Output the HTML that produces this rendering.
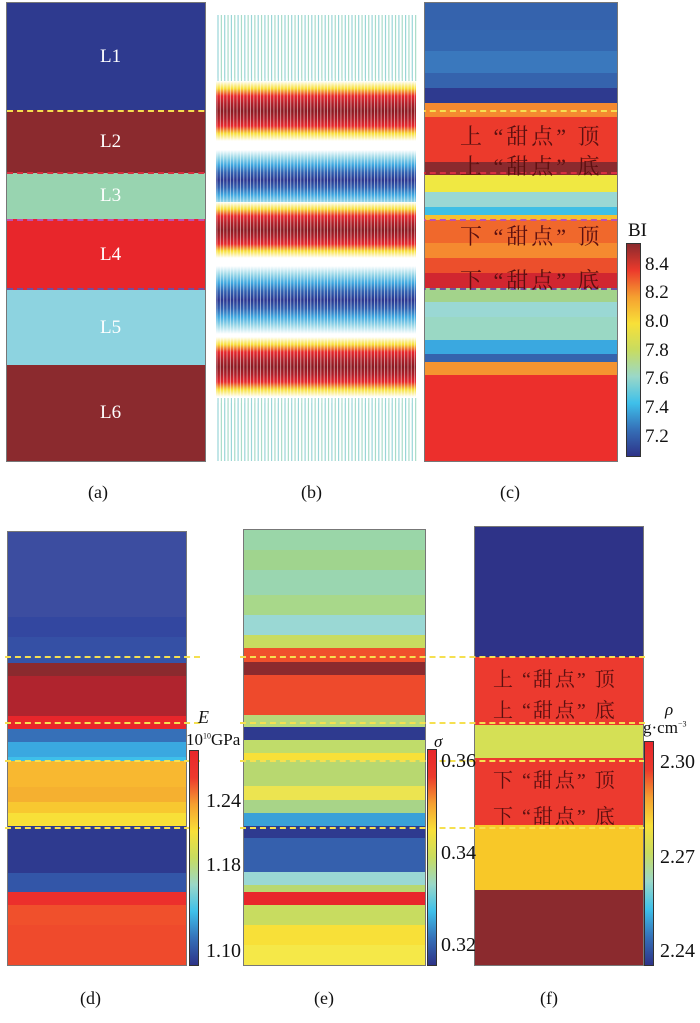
<!DOCTYPE html>
<html><head><meta charset="utf-8"><style>
body{margin:0;background:#fff;width:700px;height:1023px;overflow:hidden;position:relative;font-family:"Liberation Serif","Noto Serif CJK SC",serif;}
.p{position:absolute;overflow:hidden}
.b{position:absolute;left:0;width:100%}
.t{position:absolute;color:#111;white-space:nowrap}
.d{position:absolute;height:0;border-top:2px dashed}
.cb{position:absolute}
</style></head><body>
<div id="root"></div>
<svg id="seis" style="position:absolute;left:206px;top:3px" width="218" height="458"></svg>
<script>
const root=document.getElementById('root');
function panel(name,x,y0,y1,w,bands,border){
  const p=document.createElement('div');p.className='p';
  
  
  p.style.cssText=`left:${x}px;top:${y0}px;width:${w}px;height:${y1-y0}px;${border?'outline:1px solid #777':''}`;
  bands.forEach(b=>{const e=document.createElement('div');e.className='b';
    
    
    e.style.top=(b[0]-y0)+'px';e.style.height=(b[1]-b[0]+1)+'px';e.style.background=b[2];p.appendChild(e);});
  root.appendChild(p);
}
function text(name,s,x,y,size,extra){const e=document.createElement('div');e.className='t';
  
  
  e.style.cssText+=`left:${x}px;top:${y}px;font-size:${size}px;${extra||''}`;e.innerHTML=s;root.appendChild(e);}
function dash(x,y,w,c){const e=document.createElement('div');e.className='d';
  
  
  e.style.cssText+=`left:${x}px;top:${y-1}px;width:${w}px;border-color:${c}`;root.appendChild(e);}
const jet='linear-gradient(to top,#2e3388,#3570b8,#3ec0ea,#9ad8c8,#c8dc60,#f8e038,#f5a030,#ec3a2c,#e8262b)';
const jetBI='linear-gradient(to top,#2e3388,#3570b8,#3ec0ea,#9ad8c8,#c8dc60,#f8e038,#f5a030,#ec3a2c,#8b2a2e)';
function cbar(name,x,y0,y1,grad,ticks,tx,vmin,vmax,size,dec){
  const e=document.createElement('div');e.className='cb';
  
  
  e.style.cssText=`left:${x}px;top:${y0}px;width:${name==='bi-colorbar'?13:8}px;height:${y1-y0}px;background:${grad};outline:1px solid #333`;
  root.appendChild(e);
  ticks.forEach(v=>{const y=y1-(v-vmin)/(vmax-vmin)*(y1-y0);
    text('colorbar-tick-label',v.toFixed(dec),tx,y-size*0.6,size);});
}
// Panel a
const layersA=[[3,110,'#2e3a8f','L1'],[110,173,'#8b2a2e','L2'],[173,219,'#98d4b0','L3'],[219,290,'#e8262b','L4'],[290,365,'#8dd3e0','L5'],[365,461,'#8b2a2e','L6']];
panel('panel-a-layers',7,3,461,198,layersA,true);
layersA.forEach(l=>text('layer-label',l[3],100,(l[0]+l[1])/2-11,19,'color:#fff'));
// Panel c
const bandsC=[[3,30,'#3563ad'],[30,51,'#3467b0'],[51,73,'#3a78bd'],[73,88,'#3563ad'],[88,103,'#2e3a8f'],[103,117,'#f58a30'],[117,162,'#ec3a2c'],[162,175,'#8b2a2e'],[175,192,'#f0e842'],[192,207,'#9ad8d4'],[207,215,'#3ebfe5'],[215,220,'#f5c030'],[220,243,'#f0682c'],[243,258,'#f58a30'],[258,273,'#ec4f2c'],[273,288,'#d12630'],[288,302,'#a3d38b'],[302,317,'#9ad8d4'],[317,340,'#9ad8c4'],[340,354,'#3aa8e0'],[354,362,'#3563ad'],[362,375,'#f59430'],[375,461,'#ec2f2c']];
panel('panel-c-bi',425,3,461,192,bandsC,true);
// Panel d
const bandsD=[[532,617,'#3c4da0'],[617,637,'#3347a0'],[637,657,'#3550a5'],[657,663,'#3554a8'],[663,676,'#8b2a2e'],[676,716,'#b0242e'],[716,729,'#e8262b'],[729,742,'#3670b8'],[742,757,'#3aa8e0'],[757,761,'#3ec0ea'],[761,787,'#f8b830'],[787,802,'#f5b030'],[802,813,'#f8c830'],[813,826,'#f8e038'],[826,873,'#2e3a8f'],[873,892,'#3356a8'],[892,905,'#ec2f2c'],[905,925,'#f0502c'],[925,965,'#ef4a2c']];
panel('panel-d-modulus',8,532,965,178,bandsD,true);
const bandsE=[[530,550,'#9ad6a8'],[550,570,'#a0d48e'],[570,595,'#9ad6b0'],[595,615,'#a8d88a'],[615,635,'#9ad8d4'],[635,648,'#c8dc60'],[648,662,'#f0502c'],[662,675,'#8b2a2e'],[675,715,'#ee4a2c'],[715,727,'#b8d878'],[727,740,'#2e3a8f'],[740,753,'#c0dc6a'],[753,760,'#f8e038'],[760,786,'#b8d870'],[786,800,'#ece450'],[800,813,'#a8d488'],[813,826,'#3aa0d8'],[826,838,'#2e3a8f'],[838,872,'#3560ad'],[872,885,'#9ad8d4'],[885,892,'#b8d870'],[892,905,'#e8262b'],[905,925,'#c8dc60'],[925,945,'#f8e038'],[945,965,'#f5e848']];
panel('panel-e-poisson',244,530,965,181,bandsE,true);
const bandsF=[[527,657,'#2e3388'],[657,725,'#ec3a2f'],[725,758,'#d5e055'],[758,825,'#ec3a2f'],[825,890,'#f8c828'],[890,965,'#8b2a2e']];
panel('panel-f-density',475,527,965,168,bandsF,true);
// dashed horizons
dash(7,111,610,'#f5e050');dash(7,173,610,'#d83040');dash(7,220,610,'#c050b0');dash(7,289,610,'#7050a0');
[657,723,761,828].forEach(y=>{dash(5,y,195,'#f5e050');dash(240,y,405,'#f5e050');});
// sweet spot text
const sweet=['上 “甜点” 顶','上 “甜点” 底','下 “甜点” 顶','下 “甜点” 底'];
[120,150,220,264].forEach((y,i)=>text('sweet-spot-label',sweet[i],460,y,22,'color:#5a1010;letter-spacing:3px'));
[663,694,764,800].forEach((y,i)=>text('sweet-spot-label',sweet[i],493,y,20,'color:#5a1010;letter-spacing:2px'));
// colorbars
cbar('bi-colorbar',627,244,456,jetBI,[8.4,8.2,8.0,7.8,7.6,7.4,7.2],645,7.067,8.547,19,1);
text('bi-colorbar-title','BI',628,220,19);
cbar('e-colorbar',190,751,965,jet,[1.24,1.18,1.10],206,1.0879,1.2876,20,2);
text('e-colorbar-title','<i>E</i>',198,707,18);
text('e-colorbar-unit','10<sup style="font-size:8px">10</sup>GPa',186,730,17);
cbar('sigma-colorbar',428,750,965,jet,[0.36,0.34,0.32],441,0.3159,0.3626,20,2);
text('sigma-colorbar-title','<i>σ</i>',434,732,17);
cbar('rho-colorbar',645,742,965,jet,[2.30,2.27,2.24],660,2.2359,2.3067,20,2);
text('rho-colorbar-title','<i>ρ</i>',665,700,17);
text('rho-colorbar-unit','g·cm<sup style="font-size:8px">−3</sup>',643,718,17);
// panel labels
[['(a)',88,482],['(b)',301,482],['(c)',500,482],['(d)',80,988],['(e)',314,988],['(f)',540,988]].forEach(l=>text('panel-label',l[0],l[1],l[2],18));
// seismic
const svg=document.getElementById('seis');const NS='http://www.w3.org/2000/svg';
const events=[[108,1],[177,-1],[227,1],[297,-1],[364,1]];
const halfW=[30,30,28,34,30];
let defs=document.createElementNS(NS,'defs');svg.appendChild(defs);
let bg=document.createElementNS(NS,'rect');bg.setAttribute('width',218);bg.setAttribute('height',458);bg.setAttribute('fill','#fff');svg.appendChild(bg);
for(let i=0;i<60;i++){const x=12+i*3.35;
  [[12,78],[395,458]].forEach(r=>{const l=document.createElementNS(NS,'line');
    
    
    l.setAttribute('x1',x);l.setAttribute('x2',x);l.setAttribute('y1',r[0]);l.setAttribute('y2',r[1]);l.setAttribute('stroke',i%2?'#a8dcc8':'#9ad6d8');l.setAttribute('stroke-width',1.2);svg.appendChild(l);});}
events.forEach((ev,k)=>{const g=document.createElementNS(NS,'linearGradient');g.setAttribute('id','g'+k);g.setAttribute('x1',0);g.setAttribute('x2',0);g.setAttribute('y1',0);g.setAttribute('y2',1);
  const cols=ev[1]>0?['#fff','#f8e038','#e8262b','#b01e28','#8b1a22','#b01e28','#e8262b','#f8e038','#fff']:['#fff','#9ad8e8','#3ea8e0','#3060b0','#2a3590','#3060b0','#3ea8e0','#9ad8e8','#fff'];
  cols.forEach((c,j)=>{const s=document.createElementNS(NS,'stop');s.setAttribute('offset',j/8);s.setAttribute('stop-color',c);g.appendChild(s);});defs.appendChild(g);
  const r=document.createElementNS(NS,'rect');
  
  
  r.setAttribute('x',10);r.setAttribute('width',200);r.setAttribute('y',ev[0]-halfW[k]);r.setAttribute('height',2*halfW[k]);r.setAttribute('fill','url(#g'+k+')');svg.appendChild(r);});
for(let i=0;i<61;i++){const l=document.createElementNS(NS,'line');const x=11+i*3.35;
  l.setAttribute('x1',x);l.setAttribute('x2',x);l.setAttribute('y1',75);l.setAttribute('y2',400);l.setAttribute('stroke','rgba(255,255,255,0.55)');l.setAttribute('stroke-width',0.9);svg.appendChild(l);}
</script>
</body></html>
